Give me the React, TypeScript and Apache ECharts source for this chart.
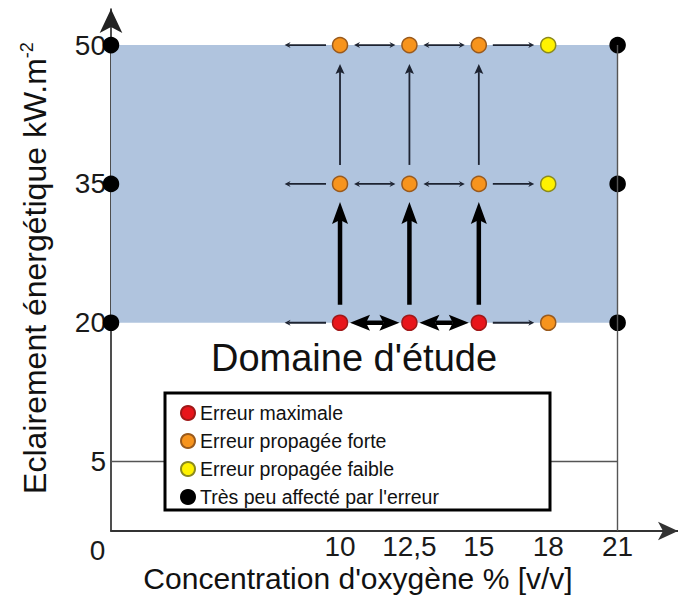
import React, { useEffect, useRef } from 'react';
import * as echarts from 'echarts';

// Oxygen concentrations (ordinal axis: the studied levels are evenly spaced, 0 sits apart)
const oxygenLabels = ['0', '10', '12,5', '15', '18', '21'];
const oxygenSlots = [0, 3.3, 4.3, 5.3, 6.3, 7.3];
// Irradiance levels (kW.m-2)
const irradianceLevels = [20, 35, 50];
const yTickValues = [5, 20, 35, 50];
const referenceLevel = 5;

const categoryNames = [
  'Erreur maximale',
  'Erreur propagée forte',
  'Erreur propagée faible',
  "Très peu affecté par l'erreur",
];
// status per oxygen column: 0 max, 1 forte, 2 faible, 3 peu affecté
const statusAt20 = [3, 0, 0, 0, 1, 3];
const statusAt35 = [3, 1, 1, 1, 2, 3];
const statusAt50 = [3, 1, 1, 1, 2, 3];
const statusRows = [statusAt20, statusAt35, statusAt50];

// arrows: [oxygen column index, level, direction, thick]
const arrowSpecs: [number, number, string, number][] = [
  [1, 20, 'left', 0], [1, 20, 'both', 1], [2, 20, 'both', 1], [3, 20, 'right', 0],
  [1, 35, 'left', 0], [1, 35, 'both', 0], [2, 35, 'both', 0], [3, 35, 'right', 0],
  [1, 50, 'left', 0], [1, 50, 'both', 0], [2, 50, 'both', 0], [3, 50, 'right', 0],
  [1, 20, 'up', 1], [2, 20, 'up', 1], [3, 20, 'up', 1],
  [1, 35, 'up', 0], [2, 35, 'up', 0], [3, 35, 'up', 0],
];

const FONT = "'Liberation Sans', Arial, sans-serif";
const fills = ['#e8151b', '#f7941d', '#fff200', '#000000'];
const borders = ['#a01818', '#9a5a1c', '#8c8a1c', '#000000'];

export default function App() {
  const ref = useRef<HTMLDivElement>(null);
  useEffect(() => {
    if (!ref.current) return;
    const chart = echarts.init(ref.current, null, { renderer: 'svg' });

    const seriesPoints: number[][][] = categoryNames.map(() => []);
    statusRows.forEach((row, i) => {
      row.forEach((st, j) => {
        seriesPoints[st].push([oxygenSlots[j], irradianceLevels[i]]);
      });
    });

    const arrowData = arrowSpecs.map(([col, level, dir, thick]) => {
      const x1 = oxygenSlots[col];
      let x2 = x1;
      let y2 = level;
      if (dir === 'left') x2 = x1 - (oxygenSlots[col + 1] - oxygenSlots[col]);
      else if (dir === 'right' || dir === 'both') x2 = oxygenSlots[col + 1];
      else if (dir === 'up') y2 = irradianceLevels[irradianceLevels.indexOf(level) + 1];
      return [x1, level, x2, y2, thick, dir === 'both' ? 1 : 0];
    });

    const xMin = oxygenSlots[0];
    const xLast = oxygenSlots[oxygenSlots.length - 1];
    const yMin = -2.5;

    const renderArrow = (params: any, api: any) => {
      const p1 = api.coord([api.value(0), api.value(1)]);
      const p2 = api.coord([api.value(2), api.value(3)]);
      const thick = api.value(4) === 1;
      const both = api.value(5) === 1;
      const vertical = Math.abs(p1[0] - p2[0]) < 1;
      const shrink = vertical ? (thick ? 18 : 19) : thick ? 10 : 14;
      const L = thick ? (vertical ? 22 : 20) : vertical ? 10 : 6;
      const hw = thick ? 8 : vertical ? 4.5 : 3;
      const notch = thick ? 4 : 2;
      const lw = thick ? 4.5 : 1.8;
      const color = thick ? '#000000' : '#1d2331';
      const dx = p2[0] - p1[0];
      const dy = p2[1] - p1[1];
      const len = Math.hypot(dx, dy);
      const ux = dx / len;
      const uy = dy / len;
      const nx = -uy;
      const ny = ux;
      const s = [p1[0] + ux * shrink, p1[1] + uy * shrink];
      const e = [p2[0] - ux * shrink, p2[1] - uy * shrink];
      const head = (tip: number[], dx1: number, dy1: number) => {
        const bx = tip[0] - dx1 * L;
        const by = tip[1] - dy1 * L;
        return {
          type: 'polygon',
          shape: {
            points: [
              [tip[0], tip[1]],
              [bx + nx * hw, by + ny * hw],
              [tip[0] - dx1 * (L - notch), tip[1] - dy1 * (L - notch)],
              [bx - nx * hw, by - ny * hw],
            ],
          },
          style: { fill: color },
        };
      };
      const ls = both ? [s[0] + ux * (L - notch), s[1] + uy * (L - notch)] : s;
      const le = [e[0] - ux * (L - notch), e[1] - uy * (L - notch)];
      const children: any[] = [
        {
          type: 'line',
          shape: { x1: ls[0], y1: ls[1], x2: le[0], y2: le[1] },
          style: { stroke: color, lineWidth: lw },
        },
        head(e, ux, uy),
      ];
      if (both) children.push(head(s, -ux, -uy));
      return { type: 'group', children };
    };

    chart.setOption({
      animation: false,
      grid: { left: 111, right: 0, top: 9, bottom: 66, outerBoundsMode: 'none', containLabel: false },
      xAxis: {
        type: 'value',
        min: xMin,
        max: 8.17,
        splitLine: { show: false },
        axisTick: { show: false },
        axisLine: {
          show: true,
          onZero: false,
          symbol: ['none', 'arrow'],
          symbolSize: [14, 20],
          lineStyle: { color: '#333', width: 2 },
        },
        axisLabel: {
          customValues: oxygenSlots,
          margin: 1,
          fontSize: 28,
          fontFamily: FONT,
          color: '#1a1a1a',
          formatter: (v: number) => {
            const i = oxygenSlots.findIndex((s) => Math.abs(s - v) < 1e-6);
            const t = i >= 0 ? oxygenLabels[i] : '';
            return i === 0 ? '{z|' + t + '}' : t;
          },
          rich: { z: { fontSize: 28, fontFamily: FONT, color: '#1a1a1a', padding: [4, 27, 0, 0] } },
        },
      },
      yAxis: {
        type: 'value',
        min: yMin,
        max: 53.9,
        splitLine: { show: false },
        axisTick: { show: false },
        axisLine: {
          show: true,
          onZero: false,
          symbol: ['none', 'arrow'],
          symbolSize: [17, 24],
          lineStyle: { color: '#222', width: 1.6 },
        },
        axisLabel: {
          customValues: yTickValues,
          margin: 5,
          fontSize: 28,
          fontFamily: FONT,
          color: '#1a1a1a',
        },
      },
      legend: {
        data: categoryNames,
        orient: 'vertical',
        left: 180,
        top: 403,
        padding: 0,
        itemGap: 8,
        itemWidth: 14,
        itemHeight: 14,
        icon: 'circle',
        z: 20,
        selectedMode: false,
        textStyle: { fontSize: 19.5, fontFamily: FONT, color: '#111' },
      },
      graphic: [
        {
          type: 'rect',
          z: 10,
          shape: { x: 165, y: 393, width: 385, height: 117 },
          style: { fill: '#ffffff', stroke: '#000000', lineWidth: 3 },
        },
        {
          type: 'text',
          z: 10,
          x: 354,
          y: 358,
          style: {
            text: "Domaine d'étude",
            fontSize: 38,
            fontFamily: FONT,
            fill: '#111',
            align: 'center',
            verticalAlign: 'middle',
          },
        },
        {
          type: 'text',
          z: 10,
          x: 358,
          y: 578,
          style: {
            text: "Concentration d'oxygène % [v/v]",
            fontSize: 30,
            fontFamily: FONT,
            fill: '#111',
            align: 'center',
            verticalAlign: 'middle',
          },
        },
        {
          type: 'text',
          z: 10,
          x: 35,
          y: 268,
          rotation: Math.PI / 2,
          style: {
            text: '{a|Eclairement énergétique kW.m}{s|-2}',
            fontFamily: FONT,
            fill: '#111',
            align: 'center',
            verticalAlign: 'middle',
            rich: {
              a: { fontSize: 32, fontFamily: FONT, fill: '#111' },
              s: { fontSize: 18, fontFamily: FONT, fill: '#111', padding: [0, 0, 17, 0] },
            },
          },
        },
      ],
      series: [
        {
          type: 'line',
          name: 'frame',
          data: [],
          z: 1,
          silent: true,
          markArea: {
            silent: true,
            itemStyle: { color: '#b0c4de' },
            data: [
              [
                { coord: [xMin, irradianceLevels[0]] },
                { coord: [xLast, irradianceLevels[irradianceLevels.length - 1]] },
              ],
            ],
          },
          markLine: {
            silent: true,
            symbol: ['none', 'none'],
            label: { show: false },
            lineStyle: { color: '#555', width: 1.4, type: 'solid' },
            data: [
              [{ coord: [xMin, referenceLevel] }, { coord: [xLast, referenceLevel] }],
              [{ coord: [xLast, yMin] }, { coord: [xLast, irradianceLevels[irradianceLevels.length - 1]] }],
            ],
          },
        },
        {
          type: 'custom',
          name: 'arrows',
          z: 3,
          silent: true,
          encode: { x: [0, 2], y: [1, 3] },
          data: arrowData,
          renderItem: renderArrow,
        },
        ...categoryNames.map((name, k) => ({
          type: 'scatter',
          name,
          z: 4,
          symbol: 'circle',
          symbolSize: 15,
          itemStyle: { color: fills[k], borderColor: borders[k], borderWidth: 1.5, opacity: 1 },
          data: seriesPoints[k],
        })),
      ],
    });
    return () => chart.dispose();
  }, []);
  return (
    <div
      ref={ref}
      style={{ position: 'fixed', left: 0, top: 0, width: 678, height: 597, background: '#fff' }}
    />
  );
}
